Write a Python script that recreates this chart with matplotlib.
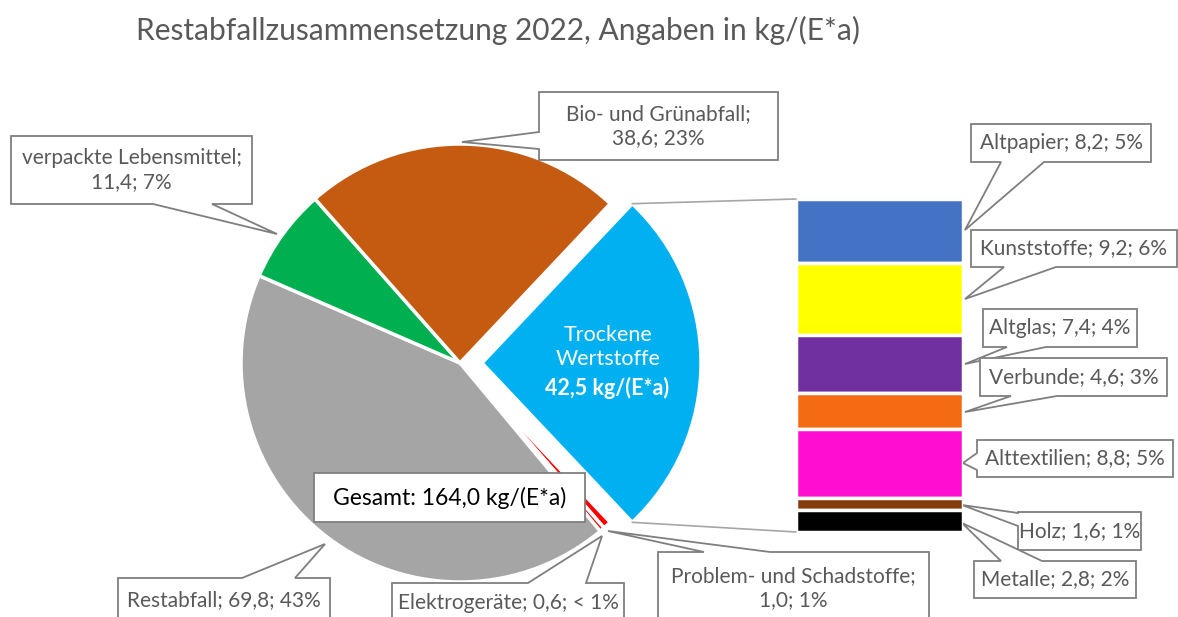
import numpy as np
import matplotlib
matplotlib.use('Agg')
import matplotlib.pyplot as plt
from matplotlib.patches import Polygon, ConnectionPatch

plt.rcParams['font.family'] = ['Lato', 'DejaVu Sans']

W, H = 1178, 617

# main pie, clockwise from the exploded slice
pie_names = ['Trockene Wertstoffe', 'Problem- und Schadstoffe', 'Elektrogeräte',
             'Restabfall', 'verpackte Lebensmittel', 'Bio- und Grünabfall']
pie_values = [42.5, 1.0, 0.6, 69.8, 11.4, 38.6]
pie_pct = ['26%', '1%', '< 1%', '43%', '7%', '23%']
pie_colors = ['#00B0F0', '#FF0000', '#FF0000', '#A5A5A5', '#00B050', '#C55A11']

# breakdown of "Trockene Wertstoffe", top to bottom
bar_names = ['Altpapier', 'Kunststoffe', 'Altglas', 'Verbunde', 'Alttextilien', 'Holz', 'Metalle']
bar_values = [8.2, 9.2, 7.4, 4.6, 8.8, 1.6, 2.8]
bar_pct = ['5%', '6%', '4%', '3%', '5%', '1%', '2%']
bar_colors = ['#4472C4', '#FFFF00', '#7030A0', '#F46B12', '#FF0DD0', '#843C0C', '#000000']

total = 164.0
title = 'Restabfallzusammensetzung 2022, Angaben in kg/(E*a)'


def de(v):
    return f'{v:.1f}'.replace('.', ',')


def Y(y):
    # pixel row (from top) -> data y
    return H - y


fig = plt.figure(figsize=(W / 100, H / 100), dpi=100)
ax = fig.add_axes([0, 0, 1, 1])

start = 360 * pie_values[0] / sum(pie_values) / 2
wedges, _ = ax.pie(pie_values, colors=pie_colors, radius=219, center=(460, Y(363)),
                   startangle=start, counterclock=False,
                   explode=[22, 0, 0, 0, 0, 0], frame=True,
                   wedgeprops=dict(edgecolor='white', linewidth=2.5))
ax.set_xlim(0, W)
ax.set_ylim(0, H)
ax.set_aspect('auto')
ax.axis('off')

ax.text(608, Y(347), 'Trockene\nWertstoffe', ha='center', va='center',
        color='white', fontsize=15.5, linespacing=1.3)
ax.text(607, Y(388), f'{de(pie_values[0])} kg/(E*a)', ha='center', va='center',
        color='white', fontsize=15.5, fontweight='bold')

ax.text(498, Y(30), title, ha='center', va='center', color='#595959',
        fontsize=21.5)

# bar of the dry recyclables
bx = fig.add_axes([796 / W, (H - 532) / H, 167 / W, 333 / H])
bottoms = np.concatenate([[0], np.cumsum(bar_values)[:-1]])
bx.bar([0] * len(bar_values), bar_values, bottom=bottoms, width=1,
       color=bar_colors, edgecolor='white', linewidth=2.5)
bx.set_xlim(-0.5, 0.5)
bx.set_ylim(sum(bar_values), 0)
bx.axis('off')

# connector lines pie -> bar
w0 = wedges[0]
cx, cy = w0.center
for ang, yb in [(w0.theta2, 0), (w0.theta1, sum(bar_values))]:
    p = (cx + w0.r * np.cos(np.radians(ang)), cy + w0.r * np.sin(np.radians(ang)))
    con = ConnectionPatch(xyA=p, coordsA=ax.transData, xyB=(-0.5, yb),
                          coordsB=bx.transData, color='#A6A6A6', lw=1.2)
    fig.add_artist(con)


def callout(text, box, side=None, base=None, tip=None, txt=None,
            color='#595959', size=15):
    x0, y0, x1, y1 = box
    pts = [(x0, y0)]
    if side == 'top':
        pts += [(base[0], y0), tip, (base[1], y0)]
    pts.append((x1, y0))
    if side == 'right':
        pts += [(x1, base[0]), tip, (x1, base[1])]
    pts.append((x1, y1))
    if side == 'bottom':
        pts += [(base[1], y1), tip, (base[0], y1)]
    pts.append((x0, y1))
    if side == 'left':
        pts += [(x0, base[1]), tip, (x0, base[0])]
    ax.add_patch(Polygon([(x, Y(y)) for x, y in pts], closed=True, fc='white',
                         ec='#7F7F7F', lw=1.3, zorder=5))
    tx, ty = txt if txt else ((x0 + x1) / 2, (y0 + y1) / 2)
    ax.text(tx, Y(ty), text, ha='center', va='center', color=color,
            fontsize=size, linespacing=1.3, zorder=6)


def lab(name, v, pct, br=False):
    return f'{name};' + ('\n' if br else ' ') + f'{de(v)}; {pct}'


# pie labels
callout(lab(pie_names[4], pie_values[4], pie_pct[4], True), (11, 136, 252, 204),
        'bottom', (153, 212), (277, 234))
callout(lab(pie_names[5], pie_values[5], pie_pct[5], True), (539, 92, 778, 160),
        'left', (132, 149), (462, 142))
callout(lab(pie_names[1], pie_values[1], pie_pct[1], True), (658, 552, 929, 640),
        'top', (704, 770), (608, 531), txt=(793, 588))
callout(lab(pie_names[2], pie_values[2], pie_pct[2]), (392, 583, 624, 640),
        'top', (528, 586), (602, 536), txt=(508, 603))
callout(lab(pie_names[3], pie_values[3], pie_pct[3]), (118, 578, 330, 640),
        'top', (242, 295), (325, 544), txt=(224, 600))

# bar labels
bar_boxes = [
    ((971, 124, 1151, 162), 'bottom', (1001, 1044), (965, 230)),
    ((971, 230, 1177, 267), 'bottom', (1004, 1056), (965, 299)),
    ((983, 309, 1137, 347), 'bottom', (1007, 1046), (965, 364)),
    ((980, 358, 1167, 396), 'bottom', (1011, 1057), (965, 412)),
    ((977, 440, 1173, 477), 'left', (453, 470), (963, 463)),
    ((1018, 512, 1141, 550), 'left', (513, 526), (962, 505)),
    ((974, 561, 1136, 598), 'top', (1001, 1042), (962, 523)),
]
for name, v, pct, (box, side, base, tip) in zip(bar_names, bar_values, bar_pct, bar_boxes):
    callout(lab(name, v, pct), box, side, base, tip)

callout(f'Gesamt: {de(total)} kg/(E*a)', (314, 473, 585, 522), color='black', size=16.5)

fig.savefig('out.png', dpi=100)
